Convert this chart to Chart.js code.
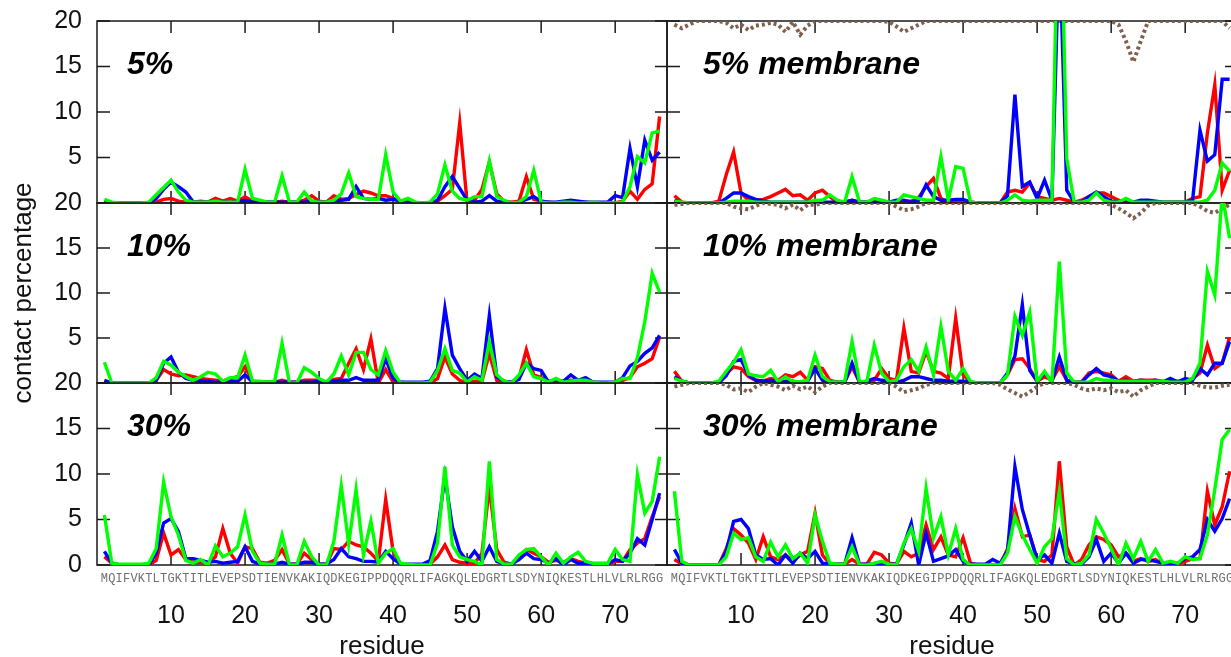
<!DOCTYPE html>
<html>
<head>
<meta charset="utf-8">
<title>contact percentage per residue</title>
<script src="https://cdn.jsdelivr.net/npm/chart.js@4.4.1/dist/chart.umd.min.js"></script>
<style>
  html, body { margin: 0; padding: 0; width: 1231px; height: 657px; overflow: hidden; background: #fff; }
  canvas { position: absolute; }
</style>
</head>
<body>
<canvas id="c5" width="680" height="216" style="left:0;top:0"></canvas>
<canvas id="c10" width="680" height="290" style="left:0;top:150px"></canvas>
<canvas id="c30" width="680" height="310" style="left:0;top:370px"></canvas>
<canvas id="c5m" width="600" height="216" style="left:654px;top:0"></canvas>
<canvas id="c10m" width="600" height="206" style="left:654px;top:190px"></canvas>
<canvas id="c30m" width="600" height="310" style="left:654px;top:370px"></canvas>
<script>
// residue sequence (one letter per residue, used as x labels)
const sequence = 'MQIFVKTLTGKTITLEVEPSDTIENVKAKIQDKEGIPPDQQRLIFAGKQLEDGRTLSDYNIQKESTLHLVLRLRGG';
const residues = sequence.split('').map((_, i) => i + 1);
const xTicks = [10, 20, 30, 40, 50, 60, 70];
const yTicks = [0, 5, 10, 15, 20];

// 5%
const red5 = [0.2,0,0,0,0,0,0,0.1,0.4,0.5, 0.2,0.1,0.1,0.2,0.1,0.5,0.2,0.5,0.2,0.7, 0.2,0.1,0.1,0.1,0.2,0.1,0.1,0.3,0.8,0.2, 0.1,0.8,0.4,0.5,0.9,1.3,1.1,0.8,0.8,0.5, 0.2,0.1,0,0,0,0.2,0.8,1.5,8.8,0, 0.3,1.5,4.5,1.0,0.2,0.1,0.2,2.9,0.4,0.2, 0.1,0,0,0.1,0.1,0.1,0,0,0,0, 0.2,1.3,0.4,1.5,2.1,9.5];
const blue5 = [0.1,0,0,0,0,0,0,0.5,1.5,2.3, 1.8,1.2,0.1,0.1,0.1,0.1,0.1,0.1,0.1,0.3, 0.1,0.1,0.1,0.1,0.1,0.1,0.1,0.1,0.2,0.1, 0.1,0.2,0.3,0.4,1.8,0.5,0.4,0.5,0.3,0.4, 0.2,0.1,0,0,0,0.3,1.8,2.9,1.6,0.3, 0.1,0.2,0.8,0.2,0.1,0,0.1,0.4,0.7,0.2, 0.1,0.1,0.2,0.3,0.2,0.1,0.1,0.1,0.1,0.8, 0.6,6.0,1.8,6.9,4.7,5.6];
const green5 = [0.4,0.1,0,0,0,0,0.1,0.9,1.7,2.5, 1.2,0.3,0.1,0.1,0.1,0.2,0.1,0.1,0.1,3.7, 0.5,0.3,0.1,0.1,3.0,0.1,0.1,1.2,0.2,0.1, 0.1,0.3,1.0,3.3,0.7,0.5,0.4,0.4,5.3,1.2, 0.2,0.5,0.1,0,0.1,1.0,4.2,1.3,0.5,0.3, 0.7,0.7,4.6,0.7,0.3,0,0.1,0.7,3.6,0.1, 0,0,0.1,0.1,0,0,0.1,0,0,0, 0.1,1.8,5.1,4.4,7.7,7.9];

// 10%
const red10 = [0.2,0,0,0,0,0,0,0.3,1.5,1.0, 0.8,0.9,0.7,0.5,0.4,0.3,0.2,0.5,0.7,1.8, 0.2,0.1,0.1,0.1,0.3,0.1,0.1,0.3,0.3,0.3, 0.1,0.4,0.5,2.2,3.8,1.5,4.9,0,1.5,0.1, 0.1,0,0,0,0,0.5,2.9,1.0,0.3,0, 0.2,0.2,3.3,0.3,0.1,0.1,0.5,3.7,0.9,0.6, 0.2,0.2,0.1,0.3,0.2,0.4,0.1,0,0,0, 0.3,0.6,1.8,2.2,2.7,5.1];
const blue10 = [0.3,0,0,0,0,0,0,0.3,2.2,2.9, 1.2,0.5,0.3,0.2,0.2,0.1,0.1,0.2,0.2,0.9, 0.1,0.1,0.1,0.1,0.1,0.1,0.1,0.1,0.1,0.2, 0.1,0.2,0.3,0.3,0.6,0.3,0.3,0.3,2.7,0.5, 0.1,0.1,0.1,0.1,0.2,1.6,8.3,3.1,1.6,0.3, 1.0,0.5,7.5,0.7,0.2,0.1,0.4,2.2,1.6,1.4, 0.1,0.3,0.2,0.9,0.3,0.6,0.1,0.1,0.1,0.1, 0.6,1.9,2.4,3.3,3.9,5.3];
const green10 = [2.3,0,0,0,0,0,0,0.6,2.4,2.0, 1.2,0.7,0.3,0.7,1.2,1.0,0.2,0.6,0.6,3.1, 0.2,0.2,0.1,0.2,4.4,0,0,1.7,1.2,0.5, 0.1,1.0,3.0,0.9,3.4,3.4,1.5,0.9,3.6,1.2, 0,0,0,0,0.1,1.4,3.8,1.4,1.1,0.1, 0.7,0.3,4.6,0.9,0.2,0,0.9,2.2,0.7,0.5, 0.1,0.5,0.1,0.2,0.3,0.3,0.1,0,0,0.1, 0.5,0.5,2.8,6.8,12.2,10.1];

// 30%
const red30 = [0.9,0.2,0,0,0,0,0,0.5,3.5,1.1, 1.7,0.6,0.3,0.3,0.2,0.9,4.0,1.3,0.2,2.0, 1.8,0.3,0.2,0.5,1.7,0.1,0.1,1.3,0.6,0.1, 0.1,1.8,1.7,2.6,2.2,2.0,1.3,0.4,7.2,1.5, 0.1,0,0,0,0.1,0.9,2.2,0.6,0.3,0.2, 0.2,1.3,8.6,1.7,0.3,0.1,0.9,1.7,1.3,0.9, 0.3,0.5,0.3,0.7,0.4,0.2,0.1,0.1,0.1,0.4, 0.4,1.7,2.4,2.9,5.3,7.5];
const blue30 = [1.5,0.2,0,0,0,0,0,1.3,4.6,5.1, 3.7,0.7,0.7,0.5,0.3,0.4,0.2,0.3,0.4,2.0, 0.4,0.1,0.1,0.1,0.3,0.1,0.1,0.3,0.3,0.1, 0.1,0.6,1.8,0.9,0.7,0.4,0.4,0.3,1.5,0.7, 0.1,0.1,0.1,0.1,0.5,3.7,9.7,4.2,1.5,0.4, 1.5,0.4,2.0,0.4,0.1,0.1,0.6,1.3,0.7,0.6, 0.2,0.7,0,0.6,0.2,0.2,0.1,0.1,0.1,0.6, 0.4,1.3,2.9,2.2,5.0,7.9];
const green30 = [5.5,0.2,0.1,0.1,0.1,0.1,0.2,1.8,9.1,5.3, 3.3,0.5,0.2,0.6,0,2.1,0.9,1.3,2.0,5.5, 1.5,0.2,0.1,0.1,3.3,0,0,2.6,0.9,0, 0,2.6,8.7,2.3,8.3,1.1,4.8,0.2,1.3,1.8, 0.2,0.1,0,0,0,2.4,10.8,2.2,0.9,0.6, 0.4,0,11.4,0.6,0.1,0.1,1.1,1.7,1.8,0.9, 0,1.3,0.2,0.9,1.4,0.4,0.2,0.2,0.2,1.7, 0.6,0.4,9.9,5.7,7.0,11.9];

// 5% membrane
const red5m = [0.8,0.1,0,0,0,0,0.2,3.1,5.6,1.1, 0.3,0.3,0.4,0.7,1.1,1.5,0.8,0.9,0.3,1.1, 1.4,0.7,0.1,0.1,0.3,0.1,0.1,0.2,0.1,0.1, 0.2,0.2,0.2,0.6,1.8,2.7,0.5,0.1,0.1,0.1, 0.1,0,0,0,0,1.2,1.4,1.2,2.2,0.7, 0.5,0.3,0.5,0.3,0.1,0.3,0.7,1.1,1.1,0.7, 0.3,0.1,0.1,0.1,0.1,0.1,0.1,0.1,0.1,0.1, 0.5,0.7,7.7,13.0,1.4,3.6];
const blue5m = [0.3,0,0,0,0,0,0,0.5,1.1,1.1, 0.7,0.4,0.2,0.1,0.1,0.1,0.1,0.1,0.1,0.2, 0.1,0.1,0.1,0.1,0.3,0.1,0.1,0.1,0.1,0.1, 0.3,0.3,0.1,0.3,2.0,0.7,0.3,0.3,0.4,0.4, 0.1,0,0,0,0,0.8,11.9,1.8,2.3,0.5, 2.5,0.3,29,1.4,0.1,0.1,0.7,1.2,0.7,0.2, 0.1,0.3,0.1,0.3,0.3,0.2,0.1,0.1,0.1,0.1, 0.3,8.0,4.6,5.3,13.6,13.6];
const green5m = [0.2,0.1,0,0,0,0,0,0.1,0.2,0.2, 0.2,0.1,0.1,0.1,0.1,0.1,0.1,0.1,0.1,0.3, 0.3,0.9,0.3,0.1,2.9,0.1,0.1,0.5,0.3,0.1, 0.1,0.9,0.7,0.5,0.3,0.3,5.1,0.3,4.0,3.8, 0.1,0,0,0,0,0.3,0.9,0.3,0.2,0.3, 0.3,0.3,40,4.9,0.1,0.1,0.3,1.1,0.3,0.1, 0.1,0.5,0.1,0.1,0.1,0.1,0.1,0.1,0.1,0.1, 0.1,0.1,0.3,1.4,4.4,3.5];
const mem5m = [19.6,19.2,19.6,20,20,20,20,19.8,19.2,19.6, 19.0,19.5,19.6,19.8,19.6,18.8,19.9,18.5,19.5,20, 20,20,20,20,20,20,20,20,20,19.9, 19.4,18.8,19.2,19.6,20,20,20,20,20,20, 20,20,20,20,20,20,20,20,20,20, 20,20,20,20,20,20,20,20,20,20, 19.6,17.8,15.5,17.8,20,20,20,20,20,20, 20,20,20,20,20,19.2];

// 10% membrane
const red10m = [1.3,0.2,0,0,0,0,0,1.0,1.8,1.6, 0.7,0.3,0.2,0.5,0.3,0.9,0.7,1.2,0.3,1.8, 1.6,0.3,0.1,0.1,1.8,0.1,0.1,0.3,1.6,0.5, 0.3,6.1,1.3,1.1,3.5,1.3,1.1,0.5,7.2,0.9, 0.1,0,0,0,0,0.9,2.6,2.7,1.6,0.2, 0.7,0.3,1.8,0.3,0.1,0.1,1.1,1.3,1.1,0.9, 0.2,0.7,0.2,0.3,0.3,0.3,0.2,0.2,0.2,0.2, 0.5,1.1,4.2,1.6,2.2,5.1];
const blue10m = [0.7,0.2,0,0,0,0,0,0.8,2.4,2.6, 0.9,0.3,0.2,0.3,0.1,0.2,0.2,0.1,0.2,1.6, 0.3,0.1,0.1,0.1,2.2,0.1,0.2,0.5,0.3,0.2, 0.1,0.3,0.7,0.7,0.5,0.3,0.3,0.2,0.2,0.2, 0.1,0,0,0,0,1.1,3.0,8.7,1.4,0.2, 1.1,0.2,2.9,0.3,0.1,0.1,0.9,1.6,0.9,0.7, 0.2,0.3,0.2,0.3,0.2,0.3,0.1,0.5,0.1,0.5, 0.3,1.6,0.9,2.2,2.2,4.6];
const green10m = [0.5,0.2,0,0,0,0,0.2,1.3,2.3,3.7, 1.0,0.8,0.7,1.4,0.15,0.7,0.15,0.15,0.3,3.1, 0.7,0.15,0.1,0.15,4.6,0.15,0.15,4.2,1.1,0.15, 0.3,1.8,2.6,1.3,4.0,0.9,6.3,1.3,0.3,1.6, 0.15,0,0,0,0,0.9,7.4,5.3,7.9,0.15, 1.3,0,13.5,1.1,0.1,0.1,0.1,0.5,0.3,0.3, 0.2,0.2,0.2,0.2,0.2,0.2,0.2,0.1,0.1,0.1, 0.5,2.2,12.4,9.8,21,16.1];
const mem10m = [19.8,19.9,20,20,20,20,20,20,19.6,19.4, 19.3,19.7,20,19.9,19.8,19.4,19.8,19.2,19.8,19.8, 20,20,20,20,20,20,20,20,20,20, 19.6,19.2,19.3,19.6,20,20,20,20,20,20, 20,20,20,20,20,20,20,20,20,20, 20,20,20,20,20,20,20,20,20,19.8, 19.4,18.9,18.3,18.9,19.7,20,20,20,20,20, 20,19.6,19.1,18.9,19.4,19.8];

// 30% membrane
const red30m = [0.6,0.1,0,0,0,0,0,1.8,4.0,3.3, 2.4,0.6,3.1,0.9,0.6,1.1,0.4,1.1,1.5,5.7, 1.1,0.1,0.1,0.1,0.6,0.1,0.1,1.4,1.1,0.2, 0.1,1.5,0.9,1.3,4.4,1.7,3.1,1.1,0.9,3.0, 0.2,0,0,0,0,1.8,6.2,3.1,3.3,0.6, 0.4,1.1,11.4,2.0,0,0.6,2.2,3.1,2.8,2.2, 0.9,1.3,0.4,0.7,0.4,0.6,0.1,0.1,0.1,0.4, 0.7,0.7,8.1,4.4,6.4,10.3];
const blue30m = [1.7,0.2,0,0,0,0,0,1.5,4.8,5.0, 4.0,1.1,0.6,0.7,0,1.1,0.2,1.3,0.7,1.5, 0.2,0.1,0.1,0.1,3.0,0.1,0.1,0.1,0.1,0.1, 0.1,2.2,4.6,0,3.5,0.4,0.7,1.0,1.7,0.4, 0.1,0.1,0.1,0.6,0.2,1.5,10.8,6.1,3.3,0.6, 1.1,0.2,3.5,0.4,0.1,0.1,0.9,2.8,0.4,1.3, 0.2,1.3,0.2,0.6,0.6,0.4,0.2,0.1,0.2,0.7, 0.9,1.7,5.0,3.7,5.1,7.3];
const green30m = [8.1,0.4,0,0,0,0,0,0.9,3.5,2.8, 3.0,0.9,0.4,2.5,0.9,2.2,0.7,1.3,0.2,5.5, 2.6,0.2,0.1,0.1,2.0,0,0,0.2,0.4,0.1, 0,2.4,4.0,1.5,8.4,3.0,5.3,1.1,4.0,0.6, 0,0,0,0,0,1.3,5.3,3.3,1.7,0.2, 2.0,2.9,8.1,0.7,0,0.2,1.1,5.0,3.5,1.8, 0,2.4,0.7,2.6,0.4,1.7,0.2,0.4,0.2,0.9, 0.6,0.7,3.3,8.3,13.8,14.9];
const mem30m = [19.6,19.8,20,20,20,20,20,19.8,19.3,19.4, 19.0,19.6,20,19.8,19.6,19.2,19.7,19.3,19.6,19.0, 19.6,20,20,20,20,20,20,20,20,20, 19.6,19.0,19.2,19.4,19.8,20,20,20,20,20, 20,20,20,20,19.8,19.3,18.9,18.5,19.0,19.6, 20,20,20,20,19.8,19.4,19.2,19.4,19.2,19.4, 19.0,19.2,18.5,19.2,19.6,20,20,20,20,20, 20,19.7,19.5,19.5,19.7,19.8];

Chart.defaults.font.family = "'Liberation Sans', Arial, sans-serif";
Chart.defaults.color = '#111';

// frame with gnuplot-like inward ticks, plus the panel label
const panelDecor = {
  id: 'panelDecor',
  beforeDatasetsDraw(chart) {
    const {ctx, chartArea: a, scales} = chart;
    ctx.save();
    ctx.strokeStyle = '#1a1a1a';
    ctx.lineWidth = 1.5;
    ctx.strokeRect(a.left, a.top, a.right - a.left, a.bottom - a.top);
    ctx.beginPath();
    xTicks.forEach(v => {
      const px = scales.x.getPixelForValue(v);
      ctx.moveTo(px, a.top); ctx.lineTo(px, a.top + 12);
      ctx.moveTo(px, a.bottom); ctx.lineTo(px, a.bottom - 12);
    });
    yTicks.forEach(v => {
      const py = scales.y.getPixelForValue(v);
      ctx.moveTo(a.left, py); ctx.lineTo(a.left + 13, py);
      ctx.moveTo(a.right, py); ctx.lineTo(a.right - 12, py);
    });
    ctx.stroke();
    ctx.restore();
  },
  afterDraw(chart, args, opts) {
    const {ctx, chartArea: a} = chart;
    ctx.save();
    ctx.font = "italic bold 32px 'Liberation Sans', Arial, sans-serif";
    ctx.fillStyle = '#000';
    ctx.textBaseline = 'alphabetic';
    ctx.fillText(opts.label, a.left + opts.dx, a.top + 53);
    ctx.restore();
  }
};

function line(values, color) {
  return {
    data: residues.map((r, i) => ({x: r, y: values[i]})),
    borderColor: color,
    borderWidth: 3.4,
    pointRadius: 0,
    tension: 0,
    fill: false
  };
}

// keep the plot area exactly where the layout puts it
function noScalePadding(s) {
  s.paddingTop = 0; s.paddingBottom = 0; s.paddingLeft = 0; s.paddingRight = 0;
}

function makePanel(id, opt) {
  const datasets = [line(opt.green, '#00ff00'), line(opt.blue, '#0000ff'), line(opt.red, '#ff0000')];
  if (opt.membrane) {
    datasets.push(Object.assign(line(opt.membrane, '#7f5f4d'), {borderWidth: 4, borderDash: [3, 3]}));
  }

  const scales = {
    x: {
      type: 'linear', min: 0, max: 77,
      grid: {display: false, drawTicks: false},
      border: {display: false},
      ticks: opt.bottom ? {
        autoSkip: false, maxRotation: 0, minRotation: 0, padding: 7,
        color: '#707070',
        font: {family: "'Liberation Mono', 'DejaVu Sans Mono', monospace", size: 12},
        callback: v => sequence[v - 1] || ''
      } : {display: false},
      afterBuildTicks: s => { s.ticks = residues.map(v => ({value: v})); },
      afterFit: s => { s.height = opt.bottom ? 24 : 0; noScalePadding(s); }
    },
    y: {
      min: 0, max: 20,
      grid: {display: false, drawTicks: false},
      border: {display: false},
      ticks: opt.left ? {
        padding: 15, font: {size: 25},
        callback: v => (v === 0 && !opt.bottom) ? '' : v
      } : {display: false},
      title: {
        display: !!opt.yTitle, text: opt.yTitle || '',
        font: {size: 26, lineHeight: 1}, padding: {top: 11, bottom: 0}
      },
      afterBuildTicks: s => { s.ticks = yTicks.map(v => ({value: v})); },
      afterFit: s => { s.width = opt.left ? 97 : 0; noScalePadding(s); }
    }
  };

  if (opt.bottom) {
    scales.x2 = {
      type: 'linear', position: 'bottom', axis: 'x', weight: 1, min: 0, max: 77,
      grid: {display: false, drawTicks: false},
      border: {display: false},
      ticks: {padding: 12, font: {size: 25}, maxRotation: 0},
      title: {display: true, text: 'residue', font: {size: 26}, padding: {top: 0, bottom: 18}},
      afterBuildTicks: s => { s.ticks = xTicks.map(v => ({value: v})); },
      afterFit: s => { s.height = 91; noScalePadding(s); }
    };
  }

  return new Chart(document.getElementById(id), {
    type: 'line',
    data: {datasets},
    options: {
      responsive: false,
      animation: false,
      devicePixelRatio: 1,
      layout: {padding: opt.padding},
      plugins: {
        legend: {display: false},
        tooltip: {enabled: false},
        panelDecor: {label: opt.label, dx: opt.left ? 30 : 36}
      },
      scales
    },
    plugins: [panelDecor]
  });
}

makePanel('c5', {label: '5%', left: true, red: red5, blue: blue5, green: green5,
  padding: {left: 0, right: 13, top: 21, bottom: 13}});
// taller canvas so the long axis title is not cut off; plot area stays 203..383
makePanel('c10', {label: '10%', left: true, yTitle: 'contact percentage', red: red10, blue: blue10, green: green10,
  padding: {left: 0, right: 13, top: 53, bottom: 57}});
makePanel('c30', {label: '30%', left: true, bottom: true, red: red30, blue: blue30, green: green30,
  padding: {left: 0, right: 13, top: 13, bottom: 0}});

makePanel('c5m', {label: '5% membrane', red: red5m, blue: blue5m, green: green5m, membrane: mem5m,
  padding: {left: 13, right: 17, top: 21, bottom: 13}});
makePanel('c10m', {label: '10% membrane', red: red10m, blue: blue10m, green: green10m, membrane: mem10m,
  padding: {left: 13, right: 17, top: 13, bottom: 13}});
makePanel('c30m', {label: '30% membrane', bottom: true, red: red30m, blue: blue30m, green: green30m, membrane: mem30m,
  padding: {left: 13, right: 17, top: 13, bottom: 0}});
</script>
</body>
</html>
